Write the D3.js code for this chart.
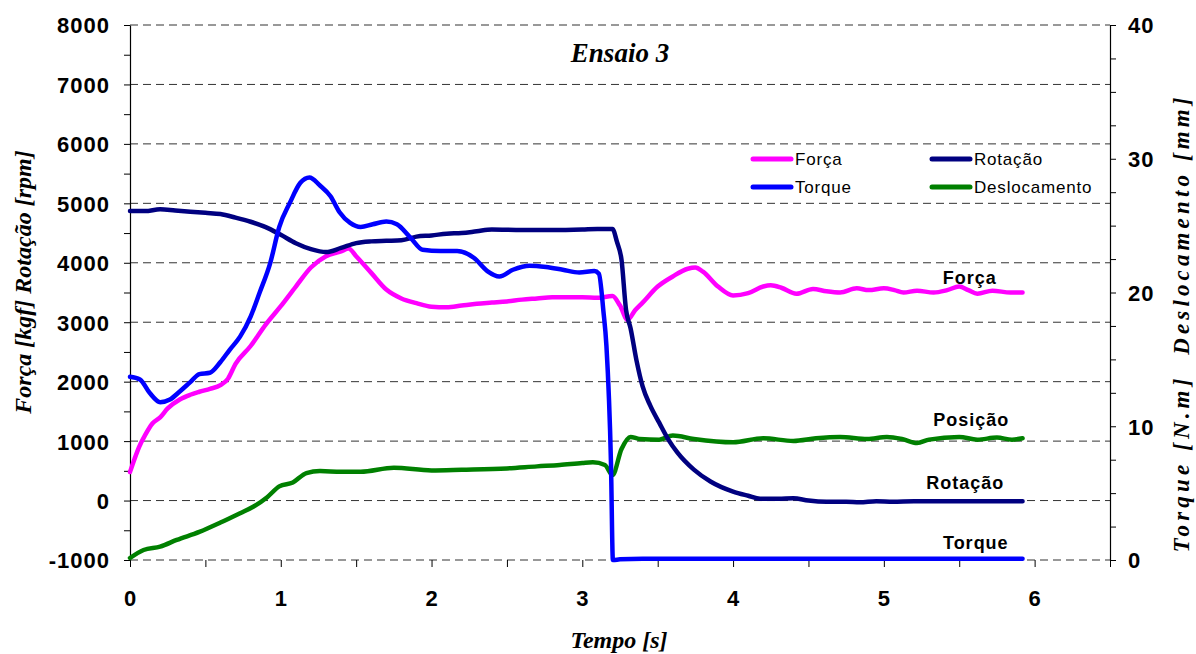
<!DOCTYPE html>
<html>
<head>
<meta charset="utf-8">
<script src="https://cdn.jsdelivr.net/npm/d3@7"></script>
<style>
  body { margin: 0; background: #fff; }
  svg { display: block; }
</style>
</head>
<body>
<div id="chart"></div>
<script>
// dados (tempo em s)
const forcaT = [0, 0.03, 0.06, 0.1, 0.15, 0.2, 0.25, 0.33, 0.4, 0.46, 0.53, 0.6, 0.65, 0.7, 0.8, 0.9, 1.0, 1.1, 1.2, 1.3, 1.4, 1.45, 1.5, 1.6, 1.7, 1.8, 1.9, 2.0, 2.1, 2.2, 2.3, 2.4, 2.5, 2.6, 2.7, 2.8, 2.9, 3.0, 3.1, 3.2, 3.25, 3.3, 3.35, 3.4, 3.5, 3.6, 3.7, 3.75, 3.8, 3.9, 4.0, 4.1, 4.2, 4.25, 4.32, 4.42, 4.53, 4.62, 4.71, 4.82, 4.9, 5.0, 5.07, 5.13, 5.22, 5.33, 5.42, 5.5, 5.56, 5.62, 5.72, 5.84, 5.92];
const forcaV = [480, 700, 900, 1100, 1300, 1400, 1550, 1700, 1780, 1830, 1880, 1940, 2050, 2300, 2600, 2960, 3270, 3600, 3920, 4110, 4190, 4240, 4110, 3830, 3550, 3400, 3320, 3260, 3250, 3280, 3310, 3330, 3350, 3380, 3400, 3420, 3420, 3420, 3410, 3440, 3280, 3040, 3200, 3330, 3600, 3770, 3900, 3920, 3850, 3600, 3450, 3490, 3600, 3620, 3580, 3480, 3560, 3520, 3500, 3570, 3540, 3570, 3540, 3500, 3530, 3500, 3540, 3600, 3540, 3480, 3530, 3500, 3500];

const rotacaoT = [0, 0.1, 0.2, 0.3, 0.4, 0.5, 0.6, 0.7, 0.8, 0.9, 1.0, 1.1, 1.2, 1.3, 1.4, 1.5, 1.6, 1.7, 1.8, 1.9, 2.0, 2.1, 2.2, 2.3, 2.4, 2.6, 2.8, 3.0, 3.1, 3.2, 3.23, 3.26, 3.29, 3.32, 3.36, 3.4, 3.45, 3.51, 3.57, 3.63, 3.74, 3.85, 4.0, 4.1, 4.18, 4.3, 4.4, 4.5, 4.62, 4.75, 4.84, 4.95, 5.06, 5.2, 5.4, 5.6, 5.8, 5.92];
const rotacaoV = [4870, 4870, 4900, 4880, 4860, 4840, 4820, 4760, 4690, 4600, 4470, 4330, 4230, 4180, 4250, 4330, 4360, 4370, 4380, 4440, 4460, 4490, 4500, 4530, 4560, 4550, 4550, 4560, 4570, 4570, 4350, 4050, 3210, 2900, 2350, 1920, 1600, 1310, 1030, 810, 520, 320, 150, 80, 30, 30, 40, 0, -20, -20, -30, -10, -20, -10, -10, -10, -10, -10];

const torqueT = [0, 0.066, 0.13, 0.2, 0.265, 0.33, 0.4, 0.46, 0.53, 0.6, 0.66, 0.73, 0.8, 0.86, 0.93, 0.99, 1.06, 1.13, 1.19, 1.26, 1.33, 1.39, 1.46, 1.53, 1.61, 1.7, 1.77, 1.86, 1.94, 2.06, 2.17, 2.28, 2.37, 2.45, 2.54, 2.65, 2.76, 2.87, 2.98, 3.08, 3.11, 3.14, 3.16, 3.19, 3.203, 3.25, 3.4, 4.0, 5.0, 5.92];
const torqueV = [13.7, 13.5, 12.5, 11.8, 12.0, 12.6, 13.3, 13.9, 14.0, 14.8, 15.7, 16.7, 18.2, 20.0, 22.2, 24.9, 26.7, 28.2, 28.6, 28.0, 27.2, 26.0, 25.2, 24.9, 25.1, 25.3, 25.1, 24.1, 23.2, 23.1, 23.1, 22.6, 21.6, 21.2, 21.7, 22.0, 21.9, 21.7, 21.5, 21.6, 21.4, 18.6, 16.0, 7.3, 0, 0.05, 0.1, 0.1, 0.1, 0.1];

const deslocT = [0, 0.09, 0.2, 0.31, 0.46, 0.6, 0.73, 0.82, 0.91, 0.99, 1.08, 1.17, 1.26, 1.4, 1.53, 1.75, 2.0, 2.2, 2.5, 2.7, 2.85, 3.0, 3.07, 3.15, 3.2, 3.26, 3.32, 3.38, 3.51, 3.6, 3.74, 4.0, 4.2, 4.4, 4.55, 4.71, 4.89, 5.02, 5.12, 5.22, 5.3, 5.5, 5.62, 5.75, 5.85, 5.92];
const deslocV = [0.15, 0.75, 1.0, 1.5, 2.1, 2.8, 3.5, 4.0, 4.7, 5.5, 5.8, 6.5, 6.65, 6.6, 6.6, 6.9, 6.7, 6.75, 6.85, 7.0, 7.1, 7.25, 7.3, 7.1, 6.35, 8.3, 9.2, 9.05, 9.0, 9.3, 9.05, 8.8, 9.1, 8.9, 9.1, 9.2, 9.05, 9.2, 9.05, 8.75, 9.0, 9.2, 9.0, 9.15, 9.0, 9.1];

const leftTicks = d3.range(-1000, 8001, 500);
const rightTicks = d3.range(0, 40.1, 2.5);
const xTicks = d3.range(0, 6.51, 0.5);
const gridValues = d3.range(-1000, 8001, 1000);

const legendNames = ["Força", "Rotação", "Torque", "Deslocamento"];
const colors = { "Força": "#ff00ff", "Rotação": "#000080", "Torque": "#0000ff", "Deslocamento": "#008000" };

// rótulos dentro do gráfico
const curveLabels = [
    { text: "Força", t: 5.57, v: 3650 },
    { text: "Posição", t: 5.58, v: 1260 },
    { text: "Rotação", t: 5.54, v: 200 },
    { text: "Torque", t: 5.61, v: -820 }
];

const W = 1196, H = 654;
const svg = d3.select("#chart").append("svg")
    .attr("width", W)
    .attr("height", H);

const x = d3.scaleLinear().domain([0, 6.5]).range([130, 1110]);
const yL = d3.scaleLinear().domain([-1000, 8000]).range([560, 25]);
const yR = d3.scaleLinear().domain([0, 40]).range([560, 25]);

// grade tracejada
svg.append("g").selectAll("line")
    .data(gridValues)
    .enter().append("line")
    .attr("x1", x(0)).attr("x2", x(6.5))
    .attr("y1", d => yL(d)).attr("y2", d => yL(d))
    .attr("stroke", "#333")
    .attr("stroke-width", 1)
    .attr("stroke-dasharray", "8,5");

const tickFont = "'Liberation Sans', Arial, sans-serif";

// eixo esquerdo
const gL = svg.append("g")
    .attr("transform", `translate(${x(0)},0)`)
    .call(d3.axisLeft(yL).tickValues(leftTicks).tickSize(6).tickSizeOuter(0).tickPadding(14)
        .tickFormat(d => d % 1000 === 0 ? d : ""));

// eixo direito
const gR = svg.append("g")
    .attr("transform", `translate(${x(6.5)},0)`)
    .call(d3.axisRight(yR).tickValues(rightTicks).tickSize(6).tickSizeOuter(0).tickPadding(12)
        .tickFormat(d => d % 10 === 0 ? d : ""));

// eixo x
const gX = svg.append("g")
    .attr("transform", `translate(0,${yL(-1000)})`)
    .call(d3.axisBottom(x).tickValues(xTicks).tickSize(7).tickSizeOuter(0).tickPadding(23)
        .tickFormat(d => Number.isInteger(d) ? d : ""));
gX.select(".domain").remove();

[gL, gR, gX].forEach(g => {
    g.selectAll("text")
        .style("font-family", tickFont)
        .style("font-size", "22px")
        .style("font-weight", "bold")
        .style("letter-spacing", "1px")
        .attr("fill", "#000");
    g.selectAll("line").attr("stroke", "#000");
    g.select(".domain").attr("stroke", "#000").attr("stroke-width", 1.2);
});
gL.selectAll("text").attr("dy", "0.36em");
gR.selectAll("text").attr("dy", "0.36em");

// séries
const lineL = d3.line()
    .x(d => x(d[0]))
    .y(d => yL(d[1]))
    .curve(d3.curveMonotoneX);
const lineR = d3.line()
    .x(d => x(d[0]))
    .y(d => yR(d[1]))
    .curve(d3.curveMonotoneX);

const series = [
    { name: "Força", pts: d3.zip(forcaT, forcaV), line: lineL },
    { name: "Deslocamento", pts: d3.zip(deslocT, deslocV), line: lineR },
    { name: "Rotação", pts: d3.zip(rotacaoT, rotacaoV), line: lineL },
    { name: "Torque", pts: d3.zip(torqueT, torqueV), line: lineR }
];

svg.append("g").selectAll("path")
    .data(series)
    .enter().append("path")
    .attr("d", d => d.line(d.pts))
    .attr("fill", "none")
    .attr("stroke", d => colors[d.name])
    .attr("stroke-width", 4.5)
    .attr("stroke-linejoin", "round")
    .attr("stroke-linecap", "round");

// legenda
const legend = svg.append("g");
legendNames.forEach((name, i) => {
    const lx = 753 + (i % 2) * 179;
    const ly = 159 + Math.floor(i / 2) * 28;
    legend.append("line")
        .attr("x1", lx).attr("x2", lx + 38)
        .attr("y1", ly).attr("y2", ly)
        .attr("stroke", colors[name])
        .attr("stroke-width", 5)
        .attr("stroke-linecap", "round");
    legend.append("text")
        .attr("x", lx + 42)
        .attr("y", ly + 6)
        .style("font-family", tickFont)
        .style("font-size", "17px")
        .style("letter-spacing", "0.8px")
        .text(name);
});

// rótulos das curvas
svg.append("g").selectAll("text")
    .data(curveLabels)
    .enter().append("text")
    .attr("x", d => x(d.t))
    .attr("y", d => yL(d.v))
    .attr("text-anchor", "middle")
    .style("font-family", tickFont)
    .style("font-size", "18px")
    .style("font-weight", "bold")
    .style("letter-spacing", "1px")
    .text(d => d.text);

const serif = "'Liberation Serif', 'Times New Roman', Times, 'DejaVu Serif', serif";

// título
svg.append("text")
    .attr("x", 620)
    .attr("y", 62)
    .attr("text-anchor", "middle")
    .style("font-family", serif)
    .style("font-size", "27px")
    .style("font-weight", "bold")
    .style("font-style", "italic")
    .text("Ensaio 3");

// título eixo x
svg.append("text")
    .attr("x", 619)
    .attr("y", 648)
    .attr("text-anchor", "middle")
    .style("font-family", serif)
    .style("font-size", "24px")
    .style("font-weight", "bold")
    .style("font-style", "italic")
    .text("Tempo [s]");

// título eixo esquerdo
svg.append("text")
    .attr("transform", "translate(31,282) rotate(-90)")
    .attr("text-anchor", "middle")
    .style("font-family", serif)
    .style("font-size", "24px")
    .style("font-weight", "bold")
    .style("font-style", "italic")
    .text("Força [kgf] Rotação [rpm]");

// título eixo direito
svg.append("text")
    .attr("transform", "translate(1189,325) rotate(-90)")
    .attr("text-anchor", "middle")
    .attr("textLength", 455)
    .attr("lengthAdjust", "spacing")
    .style("font-family", serif)
    .style("font-size", "23px")
    .style("font-weight", "bold")
    .style("font-style", "italic")
    .style("white-space", "pre")
    .text("Torque [N.m]  Deslocamento [mm]");
</script>
</body>
</html>
